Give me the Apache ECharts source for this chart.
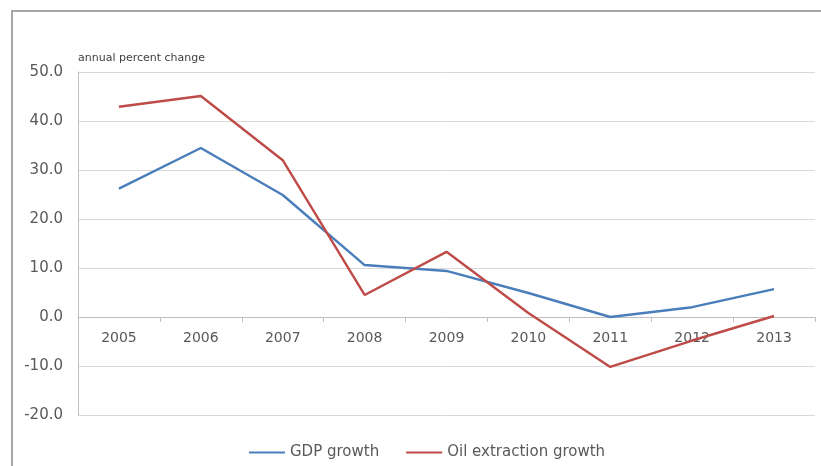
<!DOCTYPE html>
<html>
<head>
<meta charset="utf-8">
<script src="https://cdn.jsdelivr.net/npm/echarts@6/dist/echarts.min.js"></script>
<style>
html,body{margin:0;padding:0;background:#fff;overflow:hidden;}
#frame{position:absolute;left:11px;top:10px;width:840px;height:470px;border-left:2px solid #a6a6a6;border-top:2px solid #a6a6a6;box-sizing:border-box;}
#chart{position:absolute;left:0;top:0;width:821px;height:466px;}
</style>
</head>
<body>
<div id="frame"></div>
<div id="chart"></div>
<script>
const years = ['2005','2006','2007','2008','2009','2010','2011','2012','2013'];
const gdpGrowth = [26.2, 34.5, 24.9, 10.6, 9.4, 4.9, 0.0, 2.0, 5.7];
const oilGrowth = [42.9, 45.1, 32.0, 4.5, 13.3, 0.8, -10.2, -4.8, 0.2];
const seriesNames = ['GDP growth', 'Oil extraction growth'];
const yAxisTitle = 'annual percent change';

const chart = echarts.init(document.getElementById('chart'), null, {renderer:'canvas'});
const textColor = '#595959';
const font = 'DejaVu Sans, Liberation Sans, sans-serif';
chart.setOption({
  animation:false,
  backgroundColor:'transparent',
  grid:{left:78, right:6, top:72, bottom:51, containLabel:false},
  legend:{
    top:440, left:244,
    data:seriesNames,
    icon:'rect', itemWidth:36, itemHeight:2, itemGap:27,
    textStyle:{color:textColor, fontSize:15, fontFamily:font, padding:[0,0,0,0]}
  },
  xAxis:{
    type:'category', data:years, boundaryGap:true,
    offset:-98,
    axisLine:{onZero:false, lineStyle:{color:'#bfbfbf', width:1}},
    axisTick:{show:true, length:5, inside:false, lineStyle:{color:'#bfbfbf'}},
    axisLabel:{color:textColor, fontSize:14, fontFamily:font, margin:14},
    splitLine:{show:false}
  },
  yAxis:{
    type:'value', min:-20, max:50, interval:10,
    name:yAxisTitle, nameLocation:'end', nameGap:8,
    nameTextStyle:{color:'#404040', fontSize:11, fontFamily:font, align:'left', padding:[0,0,0,0]},
    axisLine:{show:true, lineStyle:{color:'#bfbfbf'}},
    axisTick:{show:false},
    axisLabel:{color:textColor, fontSize:15, fontFamily:font, margin:15, formatter:v=>v.toFixed(1)},
    splitLine:{lineStyle:{color:'#d9d9d9', width:1}}
  },
  series:[
    {name:seriesNames[0], type:'line', data:gdpGrowth, symbol:'none', lineStyle:{color:'#4a7ebb', width:2.4}, itemStyle:{color:'#4a7ebb'}},
    {name:seriesNames[1], type:'line', data:oilGrowth, symbol:'none', lineStyle:{color:'#be4b48', width:2.4}, itemStyle:{color:'#be4b48'}}
  ]
});
</script>
</body>
</html>
